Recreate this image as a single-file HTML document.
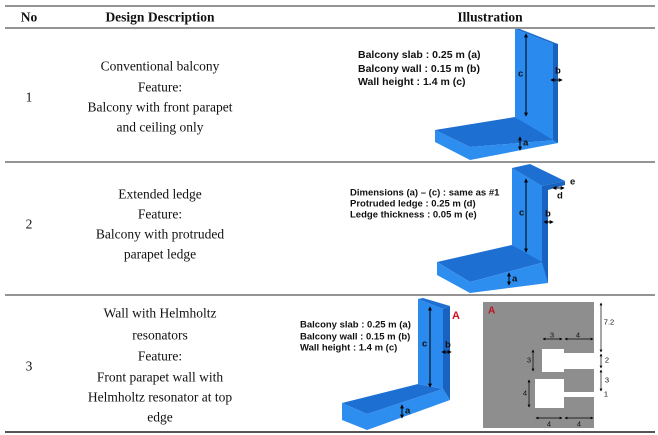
<!DOCTYPE html>
<html><head><meta charset="utf-8"><style>
html,body{margin:0;padding:0;background:#fff;}
svg{display:block}
.s{font-family:"Liberation Serif",serif;font-size:13.5px;fill:#111;text-anchor:middle;dominant-baseline:central}
.b{font-weight:bold}
.a{font-family:"Liberation Sans",sans-serif;font-size:9.5px;font-weight:bold;fill:#111;dominant-baseline:central}
.n{font-family:"Liberation Sans",sans-serif;font-size:7.5px;fill:#111;text-anchor:middle;dominant-baseline:central}
</style></head><body>
<svg width="658" height="435" viewBox="0 0 658 435" xmlns="http://www.w3.org/2000/svg">
<defs><marker id="ar" viewBox="0 0 6 6" refX="5" refY="3" markerWidth="4" markerHeight="4" orient="auto-start-reverse"><path d="M0,0L6,3L0,6z" fill="#000"/></marker></defs>
<g stroke="#555" stroke-width="1.3">
<line x1="5" y1="6" x2="655" y2="6"/>
<line x1="5" y1="28" x2="655" y2="28"/>
<line x1="5" y1="162" x2="655" y2="162"/>
<line x1="5" y1="295" x2="655" y2="295"/>
<line x1="5" y1="432" x2="655" y2="432" stroke-width="2"/>
</g>
<text class="s b" x="29" y="17">No</text>
<text class="s b" x="160" y="17">Design Description</text>
<text class="s b" x="490" y="17">Illustration</text>

<text class="s" x="29" y="97">1</text>
<text class="s" x="160" y="66">Conventional balcony</text>
<text class="s" x="160" y="87">Feature:</text>
<text class="s" x="160" y="107">Balcony with front parapet</text>
<text class="s" x="160" y="127">and ceiling only</text>

<text class="s" x="29" y="224">2</text>
<text class="s" x="160" y="194">Extended ledge</text>
<text class="s" x="160" y="214">Feature:</text>
<text class="s" x="160" y="234">Balcony with protruded</text>
<text class="s" x="160" y="254">parapet ledge</text>

<text class="s" x="29" y="366">3</text>
<text class="s" x="160" y="313">Wall with Helmholtz</text>
<text class="s" x="160" y="335">resonators</text>
<text class="s" x="160" y="356">Feature:</text>
<text class="s" x="160" y="377">Front parapet wall with</text>
<text class="s" x="160" y="397">Helmholtz resonator at top</text>
<text class="s" x="160" y="417">edge</text>

<!-- illustration 1 -->
<polygon points="435,130 515,117 557,140 470,147" fill="#1e6fd2"/>
<polygon points="435,130 470,147 470,160 435,142" fill="#2d8ef0"/>
<polygon points="470,147 557,140 558,143 470,160" fill="#2d8ef0"/>
<polygon points="515,29 553,44 553,140 515,117" fill="#2a8aee"/>
<polygon points="515,29 520,29 558,44 553,44" fill="#1e6fd2"/>
<polygon points="553,44 558,44 558,143 553,140" fill="#1a62c0"/>
<line x1="526" y1="34" x2="526" y2="116" stroke="#000" stroke-width="1" marker-start="url(#ar)" marker-end="url(#ar)"/>
<text class="a" x="518" y="74">c</text>
<text class="a" x="555" y="71">b</text>
<line x1="551" y1="80" x2="562" y2="80" stroke="#000" stroke-width="1" marker-start="url(#ar)" marker-end="url(#ar)"/>
<line x1="520" y1="137" x2="520" y2="150" stroke="#000" stroke-width="1" marker-start="url(#ar)" marker-end="url(#ar)"/>
<text class="a" x="523" y="143">a</text>
<text class="a" x="358" y="55" style="font-size:10.5px">Balcony slab : 0.25 m (a)</text>
<text class="a" x="358" y="69" style="font-size:10.5px">Balcony wall : 0.15 m (b)</text>
<text class="a" x="358" y="82" style="font-size:10.5px">Wall height : 1.4 m (c)</text>

<!-- illustration 2 -->
<polygon points="437,262 512,245 545,262 470,282" fill="#1e6fd2"/>
<polygon points="437,262 470,282 470,293 437,275" fill="#2d8ef0"/>
<polygon points="470,282 545,262 548,283 470,293" fill="#2d8ef0"/>
<polygon points="512,168 542,186 542,262 512,245" fill="#2a8aee"/>
<polygon points="512,168 530,164 565,181 542,186" fill="#1e6fd2"/>
<polygon points="542,186 565,181 565,185 548,190 548,283 542,262" fill="#1a62c0"/>
<line x1="526" y1="179" x2="526" y2="252" stroke="#000" stroke-width="1" marker-start="url(#ar)" marker-end="url(#ar)"/>
<text class="a" x="519" y="213">c</text>
<text class="a" x="545" y="214">b</text>
<line x1="544" y1="222" x2="553" y2="222" stroke="#000" stroke-width="1" marker-start="url(#ar)" marker-end="url(#ar)"/>
<text class="a" x="570" y="182">e</text>
<line x1="553" y1="188" x2="564" y2="188" stroke="#000" stroke-width="1" marker-start="url(#ar)" marker-end="url(#ar)"/>
<text class="a" x="557" y="196">d</text>
<line x1="509" y1="273" x2="509" y2="285" stroke="#000" stroke-width="1" marker-start="url(#ar)" marker-end="url(#ar)"/>
<text class="a" x="512" y="279">a</text>
<text class="a" x="350" y="193">Dimensions (a) – (c) : same as #1</text>
<text class="a" x="350" y="204">Protruded ledge : 0.25 m (d)</text>
<text class="a" x="350" y="215">Ledge thickness : 0.05 m (e)</text>

<!-- illustration 3 -->
<polygon points="342,403 418,384 443,389 367,414" fill="#1e6fd2"/>
<polygon points="342,403 367,414 367,430 342,420" fill="#2d8ef0"/>
<polygon points="367,414 443,389 450,400 367,430" fill="#2d8ef0"/>
<polygon points="418,299 443,309 443,389 418,384" fill="#2a8aee"/>
<polygon points="418,299 423,298 450,306 443,309" fill="#1e6fd2"/>
<polygon points="443,309 450,306 450,400 443,389" fill="#1a62c0"/>
<line x1="430" y1="307" x2="430" y2="387" stroke="#000" stroke-width="1" marker-start="url(#ar)" marker-end="url(#ar)"/>
<text class="a" x="422" y="344">c</text>
<text class="a" x="445" y="345">b</text>
<line x1="442" y1="352" x2="451" y2="352" stroke="#000" stroke-width="1" marker-start="url(#ar)" marker-end="url(#ar)"/>
<line x1="402" y1="405" x2="402" y2="418" stroke="#000" stroke-width="1" marker-start="url(#ar)" marker-end="url(#ar)"/>
<text class="a" x="405" y="411">a</text>
<text class="a" x="452" y="316" style="fill:#d01020;font-size:11px">A</text>
<text class="a" x="300" y="325">Balcony slab : 0.25 m (a)</text>
<text class="a" x="300" y="337">Balcony wall : 0.15 m (b)</text>
<text class="a" x="300" y="348">Wall height : 1.4 m (c)</text>

<rect x="483" y="302" width="111" height="126" fill="#8e8e8e"/>
<text class="a" x="488" y="311" style="fill:#c01020;font-size:10px">A</text>
<rect x="542" y="349" width="22" height="23" fill="#fff"/>
<rect x="563" y="353" width="31" height="16" fill="#fff"/>
<rect x="535" y="379" width="29" height="29" fill="#fff"/>
<rect x="563" y="392" width="31" height="5" fill="#fff"/>
<g stroke="#000" stroke-width="0.7" fill="none">
<line x1="601" y1="303" x2="601" y2="352" marker-start="url(#ar)" marker-end="url(#ar)"/>
<line x1="601" y1="354" x2="601" y2="368" marker-end="url(#ar)" marker-start="url(#ar)"/>
<line x1="601" y1="370" x2="601" y2="391" marker-end="url(#ar)" marker-start="url(#ar)"/>
<line x1="543" y1="339" x2="562" y2="339" marker-start="url(#ar)" marker-end="url(#ar)"/>
<line x1="565" y1="339" x2="593" y2="339" marker-start="url(#ar)" marker-end="url(#ar)"/>
<line x1="533" y1="350" x2="533" y2="371" marker-start="url(#ar)" marker-end="url(#ar)"/>
<line x1="529" y1="380" x2="529" y2="407" marker-start="url(#ar)" marker-end="url(#ar)"/>
<line x1="536" y1="418" x2="562" y2="418" marker-start="url(#ar)" marker-end="url(#ar)"/>
<line x1="565" y1="418" x2="593" y2="418" marker-start="url(#ar)" marker-end="url(#ar)"/>
</g>
<text class="n" x="609" y="322">7.2</text>
<text class="n" x="607" y="360">2</text>
<text class="n" x="607" y="380">3</text>
<text class="n" x="606" y="394">1</text>
<text class="n" x="552" y="335">3</text>
<text class="n" x="578" y="335">4</text>
<text class="n" x="529" y="360">3</text>
<text class="n" x="525" y="393">4</text>
<text class="n" x="549" y="424">4</text>
<text class="n" x="579" y="424">4</text>
</svg>
</body></html>
